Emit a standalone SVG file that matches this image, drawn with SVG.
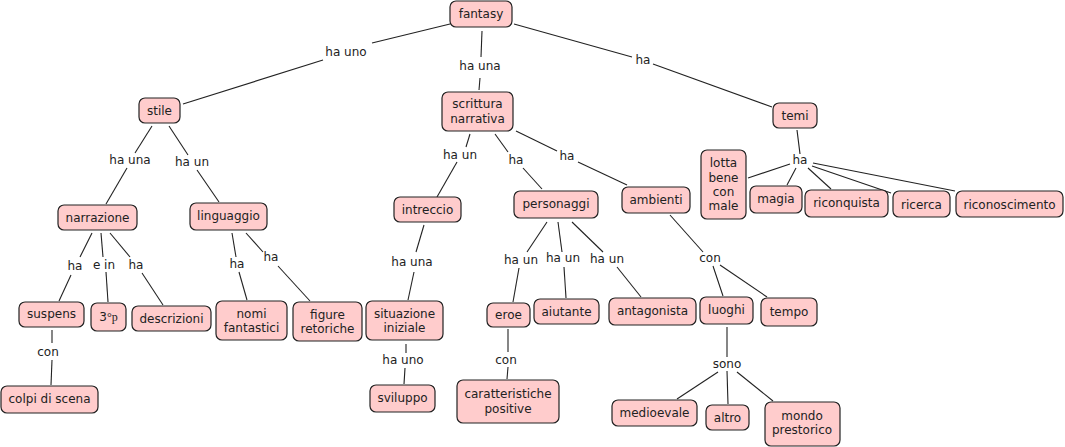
<svg xmlns="http://www.w3.org/2000/svg" width="1065" height="447" viewBox="0 0 1065 447">
<style>
.n rect{fill:#ffcccc;stroke:#222;stroke-width:1.2}
text{font-family:"DejaVu Sans",Verdana,sans-serif;font-size:12px;fill:#222;text-anchor:middle;dominant-baseline:central}
.c line{stroke:#222;stroke-width:1.1}
</style>
<rect width="1065" height="447" fill="#fff"/>
<g class="c" id="connectors">
<line x1="450" y1="24" x2="372" y2="43"/><line x1="323" y1="60" x2="183" y2="104"/>
<line x1="482" y1="31" x2="481" y2="57"/><line x1="480" y1="78" x2="479" y2="90"/>
<line x1="514" y1="24" x2="632" y2="57"/><line x1="653" y1="64" x2="772" y2="107"/>
<line x1="797" y1="130" x2="800" y2="154"/>
<line x1="790" y1="164" x2="748" y2="178"/>
<line x1="796" y1="168" x2="787" y2="185"/>
<line x1="808" y1="168" x2="831" y2="189"/>
<line x1="812" y1="166" x2="891" y2="193"/>
<line x1="813" y1="163" x2="955" y2="191"/>
<line x1="152" y1="126" x2="135" y2="153"/><line x1="127" y1="168" x2="106" y2="204"/>
<line x1="169" y1="126" x2="188" y2="155"/><line x1="197" y1="170" x2="219" y2="202"/>
<line x1="92" y1="233" x2="80" y2="257"/><line x1="71" y1="275" x2="59" y2="301"/>
<line x1="101" y1="233" x2="103" y2="257"/><line x1="106" y1="272" x2="108" y2="302"/>
<line x1="110" y1="233" x2="130" y2="257"/><line x1="142" y1="273" x2="163" y2="305"/>
<line x1="232" y1="233" x2="236" y2="257"/><line x1="239" y1="272" x2="247" y2="300"/>
<line x1="246" y1="233" x2="263" y2="252"/><line x1="278" y1="266" x2="310" y2="301"/>
<line x1="52" y1="330" x2="52" y2="343"/><line x1="52" y1="360" x2="51" y2="385"/>
<line x1="424" y1="225" x2="416" y2="252"/><line x1="414" y1="272" x2="408" y2="300"/>
<line x1="406" y1="344" x2="406" y2="353"/><line x1="405" y1="368" x2="404" y2="384"/>
<line x1="470" y1="134" x2="466" y2="147"/><line x1="457" y1="162" x2="437" y2="197"/>
<line x1="495" y1="134" x2="508" y2="152"/><line x1="523" y1="168" x2="542" y2="189"/>
<line x1="516" y1="131" x2="557" y2="151"/><line x1="578" y1="162" x2="627" y2="185"/>
<line x1="547" y1="222" x2="527" y2="252"/><line x1="519" y1="268" x2="513" y2="302"/>
<line x1="558" y1="222" x2="562" y2="252"/><line x1="564" y1="267" x2="566" y2="298"/>
<line x1="572" y1="222" x2="603" y2="252"/><line x1="617" y1="267" x2="641" y2="297"/>
<line x1="670" y1="215" x2="703" y2="252"/><line x1="713" y1="266" x2="723" y2="296"/><line x1="720" y1="265" x2="767" y2="297"/>
<line x1="508" y1="329" x2="508" y2="352"/><line x1="508" y1="367" x2="507" y2="379"/>
<line x1="727" y1="327" x2="727" y2="357"/>
<line x1="718" y1="372" x2="677" y2="399"/><line x1="727" y1="371" x2="728" y2="404"/><line x1="737" y1="372" x2="773" y2="401"/>
</g>
<g id="labels">
<text x="346" y="52">ha uno</text>
<text x="480" y="66">ha una</text>
<text x="643" y="60">ha</text>
<text x="800" y="160">ha</text>
<text x="130" y="160">ha una</text>
<text x="192" y="162">ha un</text>
<text x="75" y="266">ha</text>
<text x="104" y="265">e in</text>
<text x="136" y="265">ha</text>
<text x="237" y="264">ha</text>
<text x="271" y="257">ha</text>
<text x="48" y="352">con</text>
<text x="412" y="262">ha una</text>
<text x="403" y="360">ha uno</text>
<text x="460" y="155">ha un</text>
<text x="516" y="160">ha</text>
<text x="567" y="156">ha</text>
<text x="521" y="260">ha un</text>
<text x="563" y="258">ha un</text>
<text x="607" y="259">ha un</text>
<text x="710" y="258">con</text>
<text x="506" y="360">con</text>
<text x="727" y="364">sono</text>
</g>
<g class="n" id="n-fantasy"><rect x="450" y="1" width="62" height="26" rx="6"/><text x="481" y="14">fantasy</text></g>
<g class="n" id="n-stile"><rect x="139" y="98" width="41" height="25" rx="6"/><text x="159.5" y="110.5">stile</text></g>
<g class="n" id="n-scrittura"><rect x="442" y="92" width="71" height="39" rx="6"/><text x="477.5" y="104">scrittura</text><text x="477.5" y="119">narrativa</text></g>
<g class="n" id="n-temi"><rect x="773" y="103" width="44" height="25" rx="6"/><text x="795" y="115.5">temi</text></g>
<g class="n" id="n-narrazione"><rect x="58" y="205" width="79" height="25" rx="6"/><text x="97.5" y="217.5">narrazione</text></g>
<g class="n" id="n-linguaggio"><rect x="190" y="203" width="77" height="27" rx="6"/><text x="228.5" y="216">linguaggio</text></g>
<g class="n" id="n-intreccio"><rect x="394" y="197" width="67" height="25" rx="6"/><text x="427.5" y="210">intreccio</text></g>
<g class="n" id="n-personaggi"><rect x="514" y="191" width="84" height="27" rx="6"/><text x="556" y="204">personaggi</text></g>
<g class="n" id="n-ambienti"><rect x="622" y="187" width="68" height="26" rx="6"/><text x="656" y="200">ambienti</text></g>
<g class="n" id="n-lotta"><rect x="701" y="150" width="45" height="69" rx="6"/><text x="723.5" y="163">lotta</text><text x="723.5" y="177.5">bene</text><text x="723.5" y="192">con</text><text x="723.5" y="206">male</text></g>
<g class="n" id="n-magia"><rect x="750" y="186" width="52" height="27" rx="6"/><text x="776" y="198.5">magia</text></g>
<g class="n" id="n-riconquista"><rect x="805" y="190" width="83" height="27" rx="6"/><text x="846.5" y="203">riconquista</text></g>
<g class="n" id="n-ricerca"><rect x="893" y="191" width="57" height="26" rx="6"/><text x="921.5" y="204.5">ricerca</text></g>
<g class="n" id="n-riconoscimento"><rect x="956" y="191" width="107" height="26" rx="6"/><text x="1009.5" y="204.5">riconoscimento</text></g>
<g class="n" id="n-suspens"><rect x="19" y="302" width="65" height="25" rx="6"/><text x="51.5" y="313.5">suspens</text></g>
<g class="n" id="n-3p"><rect x="91" y="303" width="35" height="28" rx="6"/><text x="108.5" y="316.5">3<tspan font-family="Liberation Serif, serif">°p</tspan></text></g>
<g class="n" id="n-descrizioni"><rect x="132" y="306" width="79" height="25" rx="6"/><text x="171.5" y="318.5">descrizioni</text></g>
<g class="n" id="n-nomi"><rect x="216" y="301" width="71" height="39" rx="6"/><text x="251.5" y="314">nomi</text><text x="251.5" y="328">fantastici</text></g>
<g class="n" id="n-figure"><rect x="293" y="302" width="69" height="39" rx="6"/><text x="327.5" y="315">figure</text><text x="327.5" y="329">retoriche</text></g>
<g class="n" id="n-situazione"><rect x="366" y="301" width="77" height="39" rx="6"/><text x="404.5" y="314">situazione</text><text x="404.5" y="328">iniziale</text></g>
<g class="n" id="n-colpi"><rect x="1" y="386" width="97" height="27" rx="6"/><text x="49.5" y="399">colpi di scena</text></g>
<g class="n" id="n-sviluppo"><rect x="370" y="385" width="65" height="27" rx="6"/><text x="402.5" y="398">sviluppo</text></g>
<g class="n" id="n-eroe"><rect x="487" y="303" width="43" height="24" rx="6"/><text x="508.5" y="314.5">eroe</text></g>
<g class="n" id="n-aiutante"><rect x="534" y="299" width="65" height="25" rx="6"/><text x="566.5" y="312">aiutante</text></g>
<g class="n" id="n-antagonista"><rect x="609" y="298" width="87" height="27" rx="6"/><text x="652.5" y="311">antagonista</text></g>
<g class="n" id="n-luoghi"><rect x="700" y="297" width="53" height="27" rx="6"/><text x="726.5" y="309.5">luoghi</text></g>
<g class="n" id="n-tempo"><rect x="761" y="298" width="56" height="28" rx="6"/><text x="789" y="312">tempo</text></g>
<g class="n" id="n-caratteristiche"><rect x="457" y="380" width="102" height="43" rx="6"/><text x="508" y="393.5">caratteristiche</text><text x="508" y="408.5">positive</text></g>
<g class="n" id="n-medioevale"><rect x="612" y="400" width="85" height="26" rx="6"/><text x="654.5" y="412.5">medioevale</text></g>
<g class="n" id="n-altro"><rect x="706" y="405" width="43" height="25" rx="6"/><text x="727.5" y="418">altro</text></g>
<g class="n" id="n-mondo"><rect x="765" y="402" width="75" height="44" rx="6"/><text x="802" y="416">mondo</text><text x="802" y="430">prestorico</text></g>
</svg>
